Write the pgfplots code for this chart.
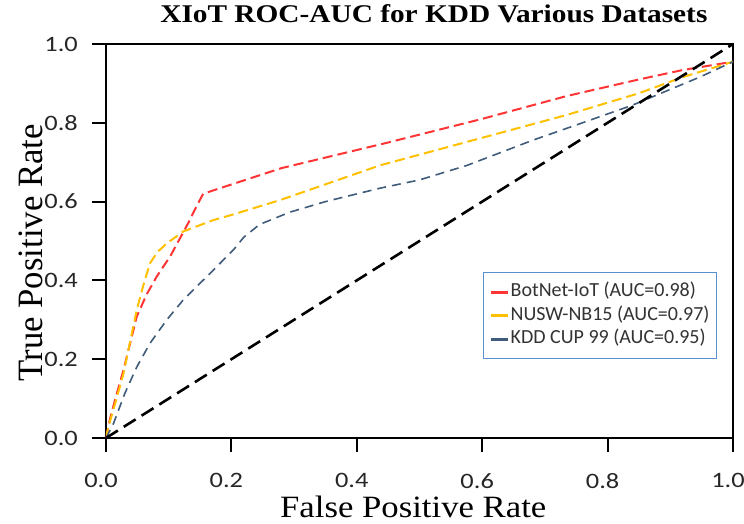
\documentclass[border=0pt]{standalone}
\usepackage{fontspec}
\usepackage{pgfplots}
\pgfplotsset{compat=1.18}
\setmainfont{Liberation Serif}
\newfontfamily\tickfont[FakeStretch=1.2]{Carlito}
\newfontfamily\legfont{Carlito}
\newfontfamily\titlefont[FakeStretch=1.15]{Liberation Serif}
\newfontfamily\labfont[FakeStretch=1.12]{Liberation Serif}
\definecolor{cred}{HTML}{FF3535}
\definecolor{cyel}{HTML}{FFC000}
\definecolor{cblue}{HTML}{3F5C7A}
\definecolor{legblue}{HTML}{5B8FD0}
\begin{document}
\begin{tikzpicture}
\begin{axis}[
  scale only axis, width=627pt, height=394pt,
  xmin=0, xmax=1, ymin=0, ymax=1,
  axis line style={line width=2.2pt, black},
  xtick={0,0.2,0.4,0.6,0.8,1}, ytick={0,0.2,0.4,0.6,0.8,1},
  xticklabels={0.0,0.2,0.4,0.6,0.8,1.0},
  yticklabels={0.0,0.2,0.4,0.6,0.8,1.0},
  tick align=outside, tick pos=left, major tick length=14pt,
  tick style={line width=2pt, black},
  ticklabel style={font=\tickfont\fontsize{22}{24}\selectfont, inner sep=0pt, text=black!85},
  x tick label style={yshift=-21pt, xshift=-5pt},
  y tick label style={xshift=-14pt},
  xlabel={False Positive Rate},
  ylabel={\scalebox{1}[1.15]{True Positive Rate}},
  xlabel style={font=\labfont\fontsize{31}{34}\selectfont, at={(axis description cs:0.49,0)}, anchor=base, yshift=-80pt},
  ylabel style={font=\labfont\fontsize{31}{34}\selectfont, at={(axis description cs:-0.1005,0.47)}, anchor=base},
  title={XIoT ROC-AUC for KDD Various Datasets},
  title style={font=\titlefont\bfseries\fontsize{25.5}{28}\selectfont, at={(axis description cs:0.523,1)}, anchor=base, yshift=15pt},
  legend style={at={(rel axis cs:0.9745,0.421)}, anchor=north east, draw=legblue, line width=1.2pt,
    font=\legfont\fontsize{20}{22}\selectfont, inner xsep=6pt, inner ysep=10pt,
    nodes={inner sep=1pt, text height=13pt, text depth=4pt, text=black!80},
    row sep=4.5pt,
    /tikz/every even column/.append style={column sep=6pt}},
  legend cell align=left,
  legend image code/.code={\draw[#1, solid, line width=2.8pt] (0pt,0pt) -- (17pt,0pt);},
]
\addplot[cred, line width=2pt, dash pattern=on 10pt off 5pt] coordinates {
(0,0)(0.006,0.046)(0.015,0.10)(0.028,0.173)(0.049,0.308)(0.065,0.365)(0.081,0.41)(0.102,0.46)(0.131,0.545)(0.145,0.59)(0.155,0.62)(0.28,0.685)(0.45,0.75)(0.6,0.81)(0.735,0.868)(0.85,0.91)(0.92,0.934)(1,0.955)};
\addlegendentry{BotNet-IoT (AUC=0.98)}
\addplot[cyel, line width=2pt, dash pattern=on 10pt off 5pt] coordinates {
(0,0)(0.004,0.029)(0.015,0.09)(0.028,0.164)(0.049,0.325)(0.06,0.39)(0.070,0.443)(0.082,0.472)(0.097,0.494)(0.123,0.524)(0.171,0.553)(0.2,0.566)(0.278,0.604)(0.437,0.692)(0.6,0.762)(0.735,0.82)(0.85,0.875)(0.92,0.916)(1,0.955)};
\addlegendentry{NUSW-NB15 (AUC=0.97)}
\addplot[cblue, line width=1.6pt, dash pattern=on 9pt off 6pt] coordinates {
(0,0)(0.012,0.037)(0.030,0.113)(0.049,0.18)(0.070,0.24)(0.097,0.30)(0.123,0.35)(0.161,0.41)(0.203,0.477)(0.22,0.51)(0.245,0.542)(0.293,0.573)(0.35,0.60)(0.437,0.634)(0.5,0.655)(0.576,0.692)(0.681,0.756)(0.76,0.80)(0.84,0.845)(0.947,0.916)(1,0.955)};
\addlegendentry{KDD CUP 99 (AUC=0.95)}
\addplot[black, line width=2.6pt, dash pattern=on 14pt off 7pt, forget plot] coordinates {(0,0)(1,1)};
\coordinate (bl) at (rel axis cs:0,0);
\coordinate (tr) at (rel axis cs:1,1);
\end{axis}
\pgfresetboundingbox
\path ([shift={(-106pt,-86pt)}]bl) rectangle ([shift={(11pt,44pt)}]tr);
\end{tikzpicture}
\end{document}
